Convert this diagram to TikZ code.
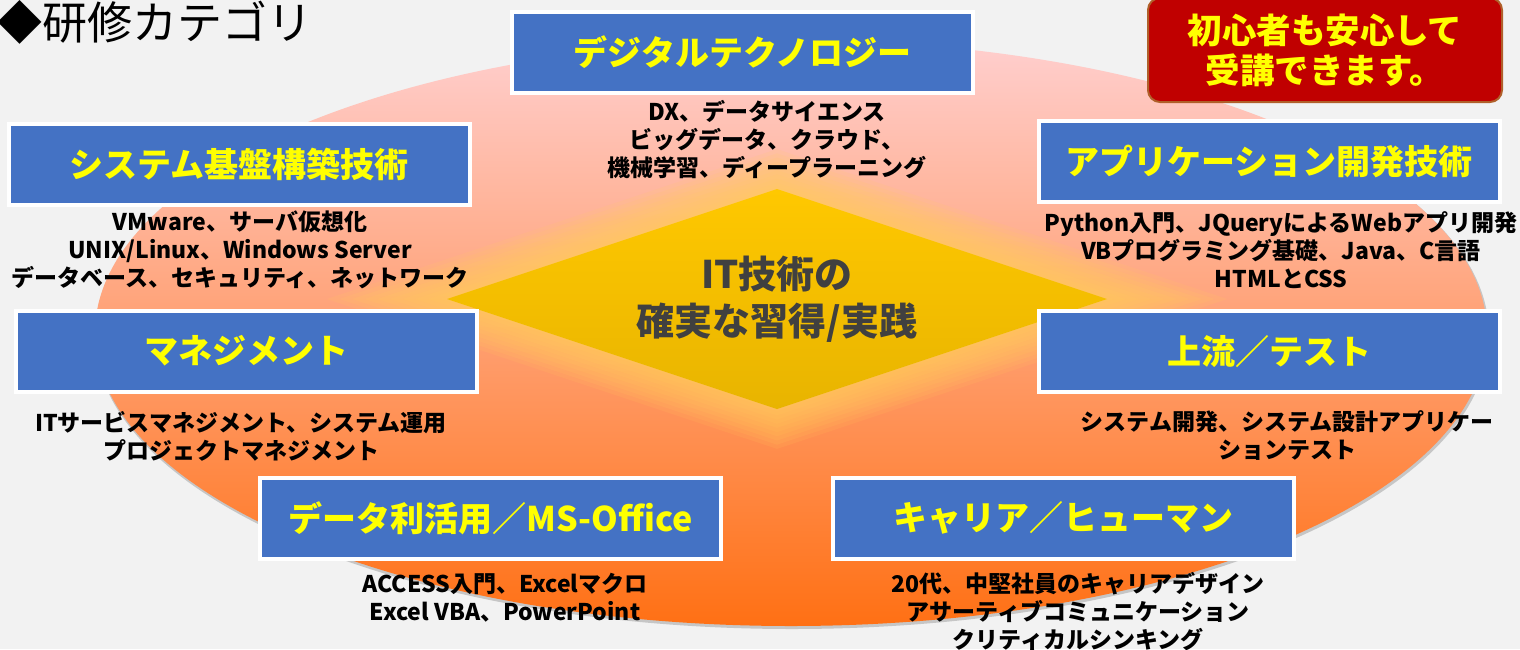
\documentclass[tikz,border=0pt]{standalone}
\usepackage{fontspec}
\usetikzlibrary{calc}
\setmainfont{Noto Sans CJK JP}
\definecolor{bg}{HTML}{F2F2F2}
\definecolor{boxblue}{HTML}{4472C4}
\definecolor{ytext}{HTML}{FFFF00}
\definecolor{redbox}{HTML}{C00000}
\definecolor{redborder}{HTML}{B0602A}
\definecolor{elltop}{HTML}{FFCFCF}
\definecolor{ellmid}{HTML}{FFA09C}
\definecolor{ellbot}{HTML}{FF7014}
\definecolor{glowc}{HTML}{FFD05A}
\definecolor{diatop}{HTML}{FFC800}
\definecolor{diabot}{HTML}{E8B400}
\definecolor{ctext}{HTML}{404040}
\tikzset{
  catbox/.style={rectangle, fill=boxblue, draw=white, line width=4pt,
    minimum width=461pt, minimum height=81pt, inner sep=0pt,
    text=ytext, font=\fontsize{34}{38}\selectfont\bfseries},
  subtext/.style={align=center, inner sep=0pt, text=black,
    font=\fontsize{23}{28}\selectfont\bfseries},
}
\begin{document}
\begin{tikzpicture}[x=1pt,y=-1pt]
\useasboundingbox (0,0) rectangle (1520,649);
\fill[bg] (0,0) rectangle (1520,649);
% big ellipse
\fill[gray!45] (792,335) ellipse [x radius=697, y radius=294];
\shade[top color=elltop, middle color=ellmid, bottom color=ellbot] (791,333) ellipse [x radius=696, y radius=293];
% diamond glow
\coordinate (dc) at (777,299);
\foreach \d in {38,34,...,2}{
  \fill[glowc, opacity=0.12] ($(dc)+(-330-3.16*\d,0)$) -- ($(dc)+(0,-110-1.05*\d)$) -- ($(dc)+(330+3.16*\d,0)$) -- ($(dc)+(0,110+1.05*\d)$) -- cycle;
}
\shade[top color=diatop, bottom color=diabot] ($(dc)+(-330,0)$) -- ($(dc)+(0,-110)$) -- ($(dc)+(330,0)$) -- ($(dc)+(0,110)$) -- cycle;
\node[align=center, text=ctext, font=\fontsize{38}{47}\selectfont\bfseries] (core) at (777,299) {IT技術の\\確実な習得/実践};
% title
\node[anchor=west, inner sep=0pt, font=\fontsize{45}{48}\selectfont] (title) at (-3,22) {◆研修カテゴリ};
% red box
\node[rectangle, rounded corners=12pt, fill=redbox, draw=redborder, line width=2pt,
  minimum width=354pt, minimum height=104pt, align=center, text=ytext,
  font=\fontsize{34.5}{40}\selectfont\bfseries] (beginner) at (1325,50) {初心者も安心して\\受講できます。};
% category boxes
\node[catbox] (digital) at (742.5,52.5) {デジタルテクノロジー};
\node[catbox] (infra) at (239,164.5) {システム基盤構築技術};
\node[catbox] (mgmt) at (246,351) {マネジメント};
\node[catbox] (app) at (1269,161) {アプリケーション開発技術};
\node[catbox] (upper) at (1269,351.5) {上流／テスト};
\node[catbox] (data) at (490.5,518) {データ利活用／MS-Office};
\node[catbox] (career) at (1063,518) {キャリア／ヒューマン};
% sub texts
\node[subtext] (digitalsub) at (767,140) {DX、データサイエンス\\ビッグデータ、クラウド、\\機械学習、ディープラーニング};
\node[subtext] (infrasub) at (240,250) {VMware、サーバ仮想化\\UNIX/Linux、Windows Server\\データベース、セキュリティ、ネットワーク};
\node[subtext] (mgmtsub) at (241,436) {ITサービスマネジメント、システム運用\\プロジェクトマネジメント};
\node[subtext] (appsub) at (1281,250) {Python入門、JQueryによるWebアプリ開発\\VBプログラミング基礎、Java、C言語\\HTMLとCSS};
\node[subtext] (uppersub) at (1287,436) {システム開発、システム設計アプリケー\\ションテスト};
\node[subtext] (datasub) at (505,598) {ACCESS入門、Excelマクロ\\Excel VBA、PowerPoint};
\node[subtext] (careersub) at (1078,612) {20代、中堅社員のキャリアデザイン\\アサーティブコミュニケーション\\クリティカルシンキング};
\end{tikzpicture}
\end{document}
